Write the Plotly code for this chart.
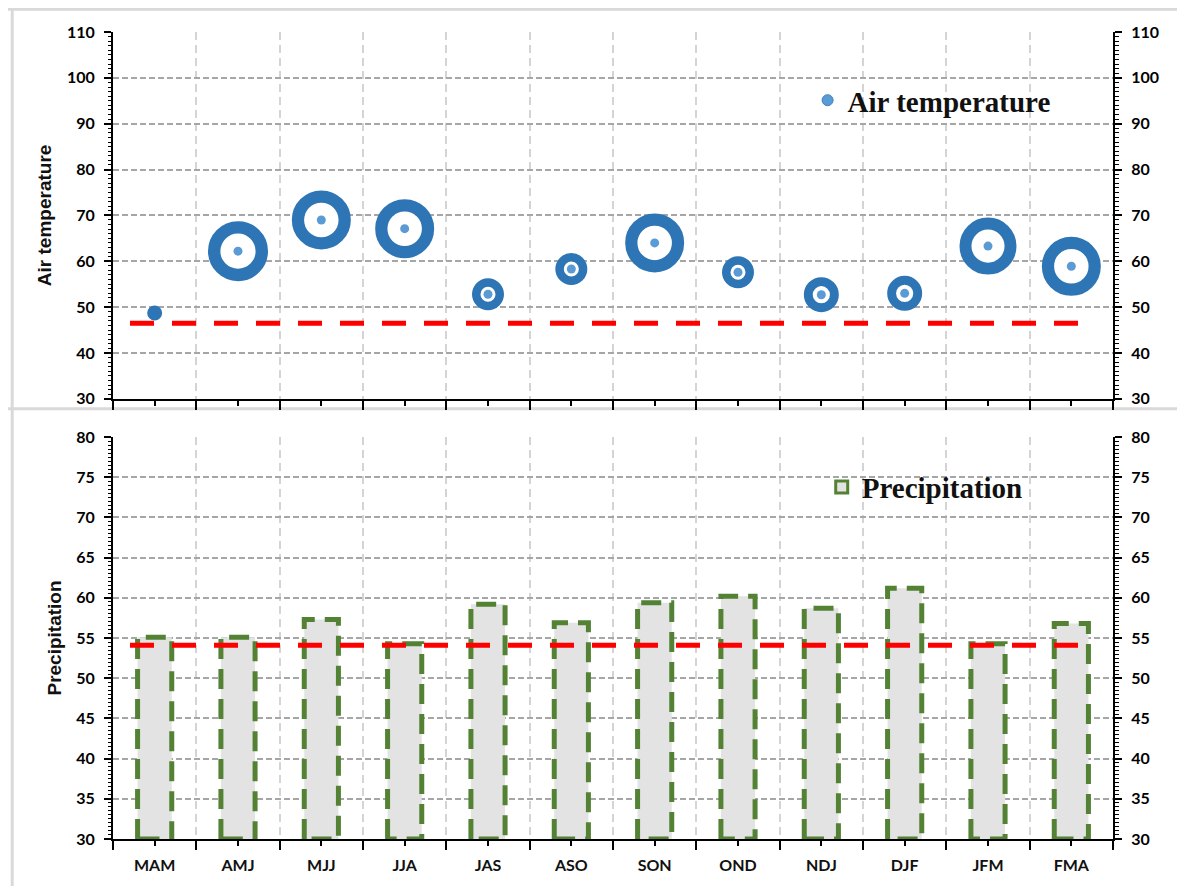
import plotly.graph_objects as go

# ---------------- data ----------------
seasons = ["MAM", "AMJ", "MJJ", "JJA", "JAS", "ASO", "SON", "OND", "NDJ", "DJF", "JFM", "FMA"]
air_temperature = [48.7, 62.2, 69.0, 67.1, 52.8, 58.3, 64.0, 57.6, 52.7, 53.0, 63.3, 58.9]
air_temp_bubble = [15, 60, 59, 59, 32, 32, 59, 32, 35, 35, 57, 59]
precipitation = [55.1, 55.1, 57.3, 54.3, 59.2, 56.9, 59.4, 60.2, 58.7, 61.2, 54.3, 56.8]
air_temp_reference = 46.5
precip_reference = 54.1
temp_range = [30, 110]
precip_range = [30, 80]

# ---------------- styling ----------------
DARK_BLUE = "#2E75B6"
LIGHT_BLUE = "#5B9BD5"
GREEN = "#548235"
BAR_FILL = "#e3e3e3"
DOT = 9
BAR_HALF = 0.205
TICK_FONT = dict(family="Lato", size=16, color="#000000", weight="bold")
TITLE_FONT = dict(family="Liberation Sans", size=19, color="#111111", weight="bold")
LEGEND_FONT = dict(family="Liberation Serif", size=29, color="#111111", weight="bold")

idx = list(range(len(seasons)))
ring_w = [4 + 0.14 * d for d in air_temp_bubble]
inner = [d - 2 * w for d, w in zip(air_temp_bubble, ring_w)]
dot_colors = [LIGHT_BLUE if s > DOT else DARK_BLUE for s in inner]

fig = go.Figure()

# --- air temperature bubbles: white core, light dot, dark ring ---
fig.add_trace(go.Scatter(
    x=idx, y=air_temperature, mode="markers", showlegend=False, hoverinfo="skip",
    marker=dict(size=[max(s, 0) for s in inner], color="white", opacity=1,
                line=dict(width=0)),
    xaxis="x", yaxis="y", cliponaxis=False))
fig.add_trace(go.Scatter(
    x=idx, y=air_temperature, mode="markers", name="Air temperature", showlegend=False,
    marker=dict(size=DOT, color=dot_colors, opacity=1, line=dict(width=0)),
    xaxis="x", yaxis="y", cliponaxis=False))
fig.add_trace(go.Scatter(
    x=idx, y=air_temperature, mode="markers", showlegend=False,
    text=seasons,
    marker=dict(size=[d - w for d, w in zip(air_temp_bubble, ring_w)], color="rgba(0,0,0,0)",
                opacity=1, line=dict(width=ring_w, color=DARK_BLUE)),
    xaxis="x", yaxis="y", cliponaxis=False))
# legend-only marker for air temperature
fig.add_trace(go.Scatter(
    x=[None], y=[None], mode="markers", name="Air temperature", legend="legend",
    marker=dict(size=11, color=LIGHT_BLUE, line=dict(width=1, color="#3f7fc0")),
    xaxis="x", yaxis="y"))
# invisible trace for right-hand temperature axis
fig.add_trace(go.Scatter(x=[None], y=[None], xaxis="x", yaxis="y3", showlegend=False,
                         hoverinfo="skip"))

# --- precipitation bars ---
fig.add_trace(go.Bar(
    x=idx, y=precipitation, width=2 * BAR_HALF, showlegend=False,
    marker=dict(color=BAR_FILL, line=dict(width=0)),
    xaxis="x2", yaxis="y2"))
ox, oy = [], []
for i, v in zip(idx, precipitation):
    ox += [i - BAR_HALF, i - BAR_HALF, i + BAR_HALF, i + BAR_HALF, i - BAR_HALF, None]
    oy += [precip_range[0], v, v, precip_range[0], precip_range[0], None]
fig.add_trace(go.Scatter(
    x=ox, y=oy, mode="lines", showlegend=False, hoverinfo="skip",
    line=dict(color=GREEN, width=5, dash="20px,10px"),
    xaxis="x2", yaxis="y2"))
fig.add_trace(go.Bar(
    x=[None], y=[None], name="Precipitation", legend="legend2",
    marker=dict(color=BAR_FILL, line=dict(width=3, color=GREEN)),
    xaxis="x2", yaxis="y2"))
fig.add_trace(go.Scatter(x=[None], y=[None], xaxis="x2", yaxis="y4", showlegend=False,
                         hoverinfo="skip"))


def xaxis_cfg(anchor, labels):
    return dict(
        anchor=anchor, domain=[0, 1], range=[-0.5, len(seasons) - 0.5],
        tickmode="array", tickvals=idx, ticktext=seasons, showticklabels=labels,
        ticks="outside", ticklen=5, tickwidth=1.5, tickcolor="black",
        tickfont=dict(family="Lato", size=16, color="#111111", weight="bold"),
        ticklabelstandoff=6,
        showline=True, linecolor="black", linewidth=2, showgrid=False, zeroline=False,
        minor=dict(tickmode="array", tickvals=[i - 0.5 for i in range(len(seasons) + 1)],
                   ticks="outside", ticklen=9, tickwidth=1.5, tickcolor="black",
                   showgrid=True, gridcolor="#d4d4d4", griddash="8px,5px", gridwidth=1.5),
    )


def yaxis_cfg(domain, rng, dtick, minor_dtick, title=None, side="left", overlay=None, anchor=None,
              grid=True):
    cfg = dict(
        domain=domain, range=rng, tickmode="linear", tick0=rng[0], dtick=dtick,
        ticks="outside", ticklen=7, tickwidth=1.5, tickcolor="black", tickfont=TICK_FONT,
        ticklabelstandoff=6,
        showline=True, linecolor="black", linewidth=2, zeroline=False,
        showgrid=grid, gridcolor="#a6a6a6", griddash="6px,3px", gridwidth=2,
        minor=dict(dtick=minor_dtick, tick0=rng[0], ticks="outside", ticklen=3.5,
                   tickwidth=1.2, tickcolor="black", showgrid=False),
        side=side,
    )
    if title:
        cfg["title"] = dict(text=title, font=TITLE_FONT, standoff=10)
    if overlay:
        cfg["overlaying"] = overlay
    if anchor:
        cfg["anchor"] = anchor
    return cfg


top_dom = [0.5455, 1.0]
bot_dom = [0.0, 0.4981]

fig.update_layout(
    width=1177, height=878,
    margin=dict(l=105, r=72, t=24, b=43),
    paper_bgcolor="white", plot_bgcolor="white",
    barmode="overlay",
    xaxis=xaxis_cfg("y", False),
    xaxis2=xaxis_cfg("y2", True),
    yaxis=yaxis_cfg(top_dom, temp_range, 10, 1, title="Air temperature", anchor="x"),
    yaxis3=yaxis_cfg(top_dom, temp_range, 10, 1, side="right", overlay="y", anchor="x",
                     grid=False),
    yaxis2=yaxis_cfg(bot_dom, precip_range, 5, 0.5, title="Precipitation", anchor="x2"),
    yaxis4=yaxis_cfg(bot_dom, precip_range, 5, 0.5, side="right", overlay="y2", anchor="x2",
                     grid=False),
    legend=dict(x=0.6946, y=0.9153, xanchor="left", yanchor="middle", xref="paper", yref="paper",
                bgcolor="rgba(0,0,0,0)", font=LEGEND_FONT),
    legend2=dict(x=0.7087, y=0.4359, xanchor="left", yanchor="middle", xref="paper", yref="paper",
                 bgcolor="rgba(0,0,0,0)", font=LEGEND_FONT),
    showlegend=True,
)

shapes = [
    dict(type="line", xref="x domain", yref="y", x0=0.017, x1=0.973,
         y0=air_temp_reference, y1=air_temp_reference,
         line=dict(color="#ff0000", width=5, dash="24px,18px"), layer="above"),
    dict(type="line", xref="x2 domain", yref="y2", x0=0.017, x1=0.973,
         y0=precip_reference, y1=precip_reference,
         line=dict(color="#ff0000", width=5, dash="24px,18px"), layer="above"),
    # panel frame lines
    dict(type="line", xref="paper", yref="paper", x0=-0.106, x1=1.08, y0=1.0282, y1=1.0282,
         line=dict(color="#d9d9d9", width=3), layer="below"),
    dict(type="line", xref="paper", yref="paper", x0=-0.106, x1=1.08, y0=0.533, y1=0.533,
         line=dict(color="#d9d9d9", width=3), layer="below"),
    dict(type="line", xref="paper", yref="paper", x0=-0.1008, x1=-0.1008, y0=1.0282, y1=-0.06,
         line=dict(color="#d9d9d9", width=3), layer="below"),
]
fig.update_layout(shapes=shapes)

fig.write_html("out.html")
